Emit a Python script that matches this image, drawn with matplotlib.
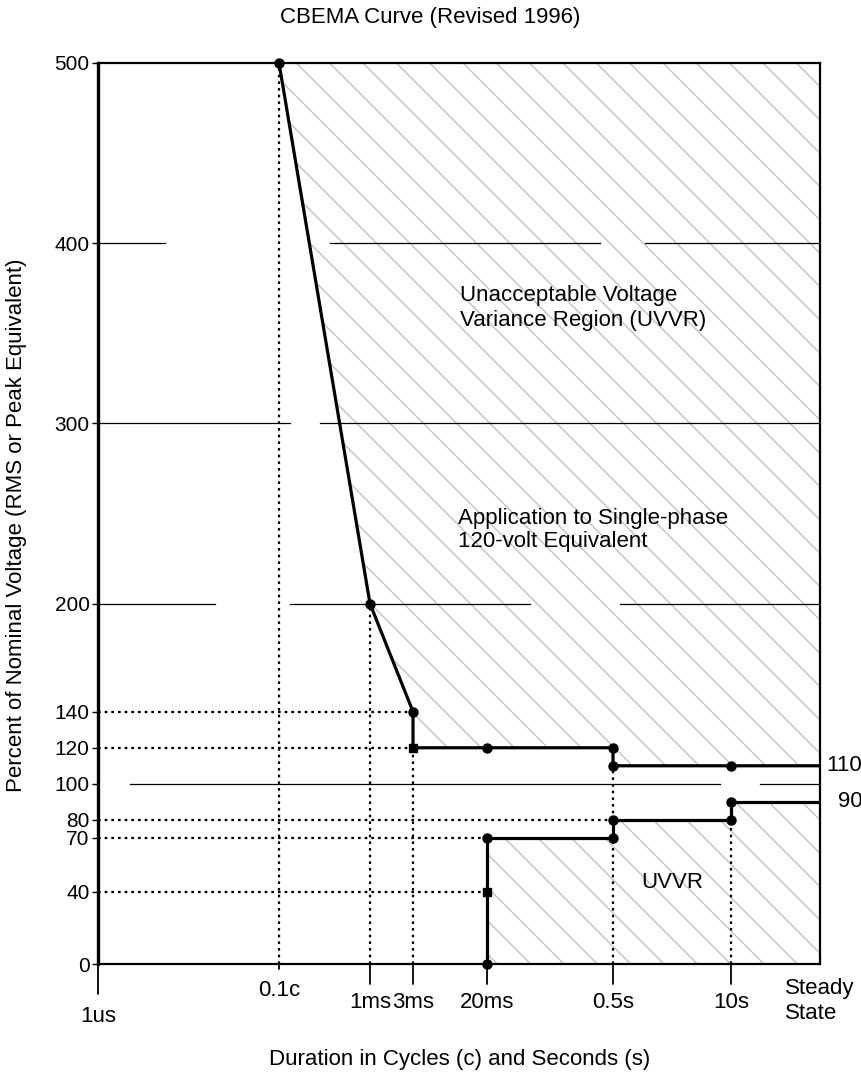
import matplotlib
matplotlib.use('Agg')
import matplotlib.pyplot as plt
import numpy as np

# categories on the duration axis (not a real time scale)
x_labels = ['1us', '0.1c', '1ms', '3ms', '20ms', '0.5s', '10s', 'Steady\nState']
y_ticks = [0, 40, 70, 80, 100, 120, 140, 200, 300, 400, 500]

# upper (overvoltage) boundary
upper_x = ['0.1c', '1ms', '3ms', '3ms', '20ms', '0.5s', '0.5s', '10s', 'Steady\nState']
upper_y = [500, 200, 140, 120, 120, 120, 110, 110, 110]

# lower (undervoltage) boundary
lower_x = ['20ms', '20ms', '20ms', '0.5s', '0.5s', '10s', '10s', 'Steady\nState']
lower_y = [0, 40, 70, 70, 80, 80, 90, 90]

# thin reference lines across the plot
ref_levels = [400, 300, 200, 100]


def idx(labels):
    return np.array([x_labels.index(l) for l in labels], dtype=float)


# the axis is stretched unevenly between categories
cat_pos = np.arange(len(x_labels), dtype=float)
cat_frac = np.array([0, 0.2507, 0.3767, 0.4363, 0.5388, 0.7133, 0.8767, 1.0])


def fwd(x):
    return np.interp(x, cat_pos, cat_frac)


def inv(x):
    return np.interp(x, cat_frac, cat_pos)


plt.rcParams['font.family'] = ['Liberation Sans', 'DejaVu Sans']
fs = 16

fig = plt.figure(figsize=(8.62, 10.76), dpi=100)
ax = fig.add_axes([98 / 862, 112 / 1076, 722 / 862, 901 / 1076])
ax.set_xscale('function', functions=(fwd, inv))
ax.set_xlim(0, len(x_labels) - 1)
ax.set_ylim(0, 500)

ux, lx = idx(upper_x), idx(lower_x)
last = len(x_labels) - 1

# stippled unacceptable regions
hatch_col = '#c2c2c2'
poly_x = np.concatenate([ux, [last]])
poly_y = np.concatenate([upper_y, [500]])
ax.fill(poly_x, poly_y, facecolor='none', edgecolor=hatch_col, hatch='\\', linewidth=0, zorder=0)
poly_x = np.concatenate([lx, [last]])
poly_y = np.concatenate([lower_y, [0]])
ax.fill(poly_x, poly_y, facecolor='none', edgecolor=hatch_col, hatch='\\', linewidth=0, zorder=0)

# thin reference lines with the breaks seen on the original
spans = {400: [(0, 0.093), (0.321, 0.695), (0.758, 1)],
         300: [(0, 0.266), (0.307, 1)],
         200: [(0, 0.162), (0.266, 0.598), (0.723, 1)],
         100: [(0.044, 0.861), (0.917, 1)]}
for lev in ref_levels:
    for a, b in spans[lev]:
        ax.axhline(lev, a, b, color='black', lw=0.9, zorder=1)

# dotted guides from the breakpoints
dot = dict(color='black', lw=1.6, linestyle=(0, (1.2, 1.8)), zorder=1)
for lev, xe in [(140, '3ms'), (120, '3ms'), (80, '0.5s'), (70, '20ms'), (40, '20ms')]:
    ax.plot([0, x_labels.index(xe)], [lev, lev], **dot)
for xe, top in [('0.1c', 500), ('1ms', 200), ('3ms', 120), ('0.5s', 70), ('10s', 80)]:
    ax.plot([x_labels.index(xe)] * 2, [0, top], **dot)
ax.plot([x_labels.index('0.5s')] * 2, [80, 110], **dot)

# the curve itself
ax.plot(ux, upper_y, color='black', lw=2.3, zorder=3)
ax.plot(lx, lower_y, color='black', lw=2.3, zorder=3)
for xs, ys in [(ux, upper_y), (lx, lower_y)]:
    for xv, yv in zip(xs[:-1], ys[:-1]):
        m = 's' if (yv == 120 and xv == 3) or yv == 40 else 'o'
        ax.plot(xv, yv, marker=m, color='black', ms=6.5 if m == 'o' else 5.5,
                zorder=4, clip_on=False)

ax.annotate('110', xy=(last, 110), xytext=(6, 0), textcoords='offset pixels',
            fontsize=fs, va='center', ha='left', annotation_clip=False)
ax.annotate('90', xy=(last, 90), xytext=(18, 0), textcoords='offset pixels',
            fontsize=fs, va='center', ha='left', annotation_clip=False)

ax.text(3.63, 377, 'Unacceptable Voltage\nVariance Region (UVVR)', fontsize=fs,
        ha='left', va='top', linespacing=1.25)
ax.text(3.61, 253, 'Application to Single-phase\n120-volt Equivalent', fontsize=fs,
        ha='left', va='top', linespacing=1.15)
ax.text(5.5, 45, 'UVVR', fontsize=fs, ha='center', va='center')

for s in ax.spines.values():
    s.set_linewidth(1.6)
ax.spines['left'].set_linewidth(2.4)

ax.set_yticks(y_ticks)
ax.tick_params(axis='y', length=4, width=1, pad=2, labelsize=15)
ax.set_xticks([])

# staggered duration labels with their own tick marks
tick_len = [30, 5, 20, 20, 20, 20, 20, 0]
label_off = [53, 26, 39, 39, 39, 39, 38, 37]
for i, (lab, ln, off) in enumerate(zip(x_labels, tick_len, label_off)):
    if ln:
        ax.annotate('', xy=(i, 0), xycoords=('data', 'axes fraction'),
                    xytext=(0, -ln), textcoords='offset pixels', annotation_clip=False,
                    arrowprops=dict(arrowstyle='-', lw=1.3, color='black', shrinkA=0, shrinkB=0))
    ax.annotate(lab, xy=(i, 0), xycoords=('data', 'axes fraction'),
                xytext=(0, -off), textcoords='offset pixels', fontsize=fs,
                ha='center', va='center', multialignment='left', annotation_clip=False)

fig.text(430 / 862, 1 - 17 / 1076, 'CBEMA Curve (Revised 1996)', fontsize=fs, ha='center', va='center')
fig.text(460 / 862, 1 - 1060 / 1076, 'Duration in Cycles (c) and Seconds (s)', fontsize=fs,
         ha='center', va='center')
fig.text(17 / 862, 1 - 525 / 1076, 'Percent of Nominal Voltage (RMS or Peak Equivalent)', fontsize=fs,
         ha='center', va='center', rotation=90)

fig.savefig('out.png', dpi=100)
